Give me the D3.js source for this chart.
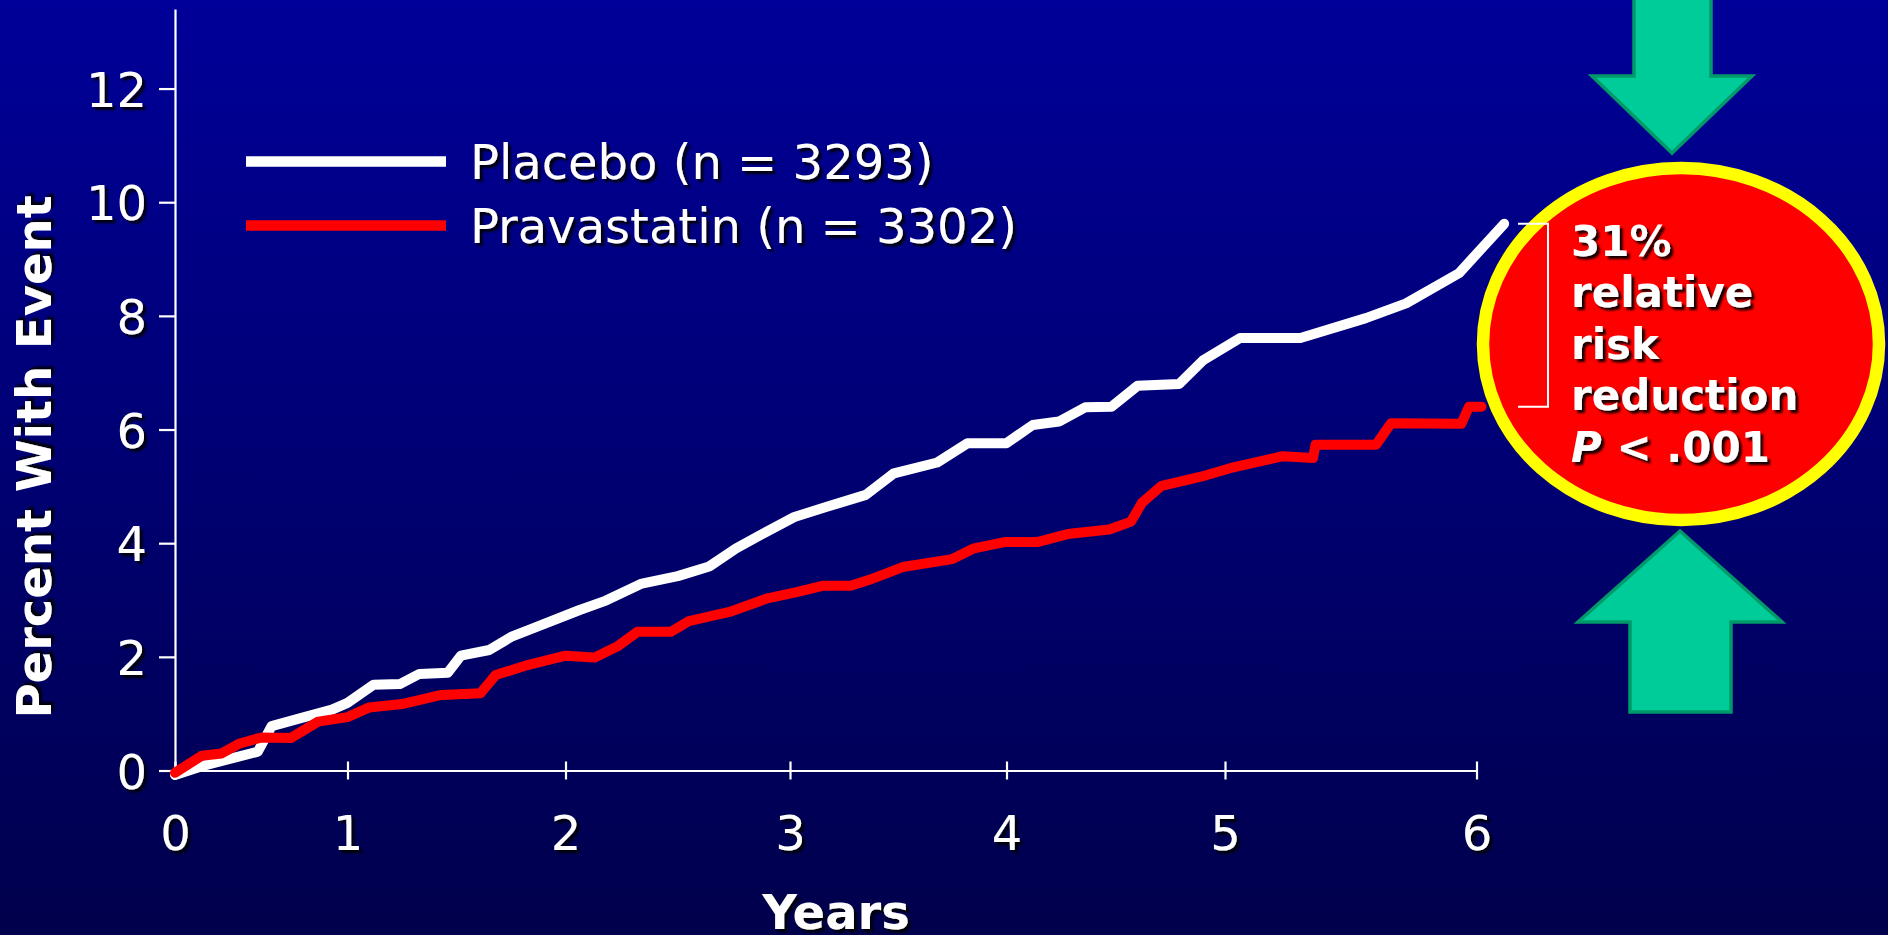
<!DOCTYPE html>
<html>
<head>
<meta charset="utf-8">
<script src="https://cdn.jsdelivr.net/npm/d3@7"></script>
<style>
  html, body { margin: 0; padding: 0; overflow: hidden; background: #000070; }
  svg { display: block; }
  text { font-family: "DejaVu Sans", Verdana, sans-serif; fill: #fff; }
</style>
</head>
<body>
<svg id="chart" width="1888" height="935"></svg>
<script>
// Cumulative event rates (%) by years of follow-up
const placeboYears = [0, 0.16, 0.30, 0.48, 0.56, 0.75, 0.91, 1.00, 1.12, 1.24, 1.33, 1.46, 1.52, 1.65, 1.75, 1.85, 2.06, 2.18, 2.34, 2.50, 2.64, 2.76, 2.88, 3.02, 3.17, 3.35, 3.48, 3.68, 3.82, 4.00, 4.12, 4.24, 4.36, 4.48, 4.60, 4.79, 4.90, 5.06, 5.30, 5.56, 5.72, 5.93, 6.11];
const placeboPct = [-0.08, 0.08, 0.19, 0.33, 0.78, 0.94, 1.07, 1.19, 1.51, 1.52, 1.70, 1.72, 2.02, 2.12, 2.35, 2.50, 2.82, 2.99, 3.29, 3.42, 3.59, 3.91, 4.17, 4.46, 4.64, 4.85, 5.23, 5.42, 5.76, 5.76, 6.08, 6.14, 6.39, 6.40, 6.77, 6.80, 7.22, 7.61, 7.61, 7.96, 8.22, 8.75, 9.62];

const pravaYears = [0, 0.155, 0.27, 0.37, 0.50, 0.67, 0.83, 1.00, 1.10, 1.25, 1.43, 1.61, 1.68, 1.83, 2.00, 2.13, 2.23, 2.32, 2.47, 2.55, 2.73, 2.90, 3.03, 3.15, 3.28, 3.37, 3.52, 3.75, 3.85, 3.99, 4.14, 4.28, 4.47, 4.57, 4.62, 4.71, 4.89, 5.02, 5.23, 5.35, 5.36, 5.60, 5.66, 5.94, 5.97, 6.02];
const pravaPct = [-0.04, 0.26, 0.30, 0.47, 0.58, 0.57, 0.86, 0.94, 1.11, 1.17, 1.33, 1.36, 1.68, 1.86, 2.02, 1.99, 2.18, 2.44, 2.44, 2.63, 2.79, 3.03, 3.14, 3.25, 3.25, 3.36, 3.58, 3.72, 3.91, 4.02, 4.02, 4.16, 4.24, 4.38, 4.71, 5.01, 5.17, 5.32, 5.53, 5.50, 5.73, 5.73, 6.11, 6.10, 6.40, 6.40];

const seriesNames = ["Placebo (n = 3293)", "Pravastatin (n = 3302)"];
const seriesColors = ["#ffffff", "#ff0000"];

const xTicks = [0, 1, 2, 3, 4, 5, 6];
const yTicks = [0, 2, 4, 6, 8, 10, 12];
const xTitle = "Years";
const yTitle = "Percent With Event";
const calloutLines = ["31%", "relative", "risk", "reduction"];
const calloutP = ["P", " < .001"];

// ---- layout ----
const W = 1888, H = 935;
const axisLeft = 175, axisBottom = 770.5, axisTop = 9;
// tick spacing along the time axis is uneven on this slide
const xStops = [0, 172.5, 390.5, 615, 831.5, 1050, 1301.5];

const svg = d3.select("#chart");
const defs = svg.append("defs");

const grad = defs.append("linearGradient").attr("id", "bg")
  .attr("x1", 0).attr("y1", 0).attr("x2", 0).attr("y2", 1);
grad.append("stop").attr("offset", "0%").attr("stop-color", "#000099");
grad.append("stop").attr("offset", "100%").attr("stop-color", "#00004c");

const shadow = defs.append("filter").attr("id", "shadow")
  .attr("x", "-10%").attr("y", "-10%").attr("width", "130%").attr("height", "140%");
shadow.append("feDropShadow").attr("dx", 3).attr("dy", 3)
  .attr("stdDeviation", 0.8).attr("flood-color", "#000").attr("flood-opacity", 0.9);

svg.append("rect").attr("width", W).attr("height", H).attr("fill", "url(#bg)");

const x = d3.scaleLinear().domain(xTicks).range(xStops.map(d => axisLeft + d));
const y = d3.scaleLinear().domain([0, 13.4]).range([axisBottom, axisTop]);

// ---- axes ----
const gy = svg.append("g").attr("transform", `translate(${axisLeft},0)`)
  .call(d3.axisLeft(y).tickValues(yTicks).tickSize(16).tickSizeOuter(0).tickFormat(d3.format("d")));
const gx = svg.append("g").attr("transform", `translate(0,${axisBottom})`)
  .call(d3.axisBottom(x).tickValues(xTicks).tickSize(9).tickSizeOuter(0).tickFormat(d3.format("d")));

[gy, gx].forEach(g => {
  g.select(".domain").attr("stroke", "#fff").attr("stroke-width", 2.2);
  g.selectAll(".tick line").attr("stroke", "#fff").attr("stroke-width", 2.2);
  g.selectAll(".tick text")
    .attr("font-size", 48).attr("fill", "#fff")
    .attr("font-family", '"DejaVu Sans", Verdana, sans-serif')
    .attr("filter", "url(#shadow)");
});
gy.selectAll(".tick text").attr("x", -28).attr("dy", 17.5);
gx.selectAll(".tick line").attr("y1", -9);
gx.selectAll(".tick text").attr("y", 79.5).attr("dy", 0);

// axis titles
svg.append("text")
  .attr("transform", `translate(51,457) rotate(-90)`)
  .attr("text-anchor", "middle")
  .attr("font-size", 48).attr("font-weight", "bold")
  .attr("filter", "url(#shadow)")
  .text(yTitle);

svg.append("text")
  .attr("x", 836).attr("y", 929)
  .attr("text-anchor", "middle")
  .attr("font-size", 48).attr("font-weight", "bold")
  .attr("filter", "url(#shadow)")
  .text(xTitle);

// ---- curves ----
const line = d3.line().x(d => x(d[0])).y(d => y(d[1]));
const series = [
  d3.zip(placeboYears, placeboPct),
  d3.zip(pravaYears, pravaPct)
];

svg.append("g").selectAll("path").data(series).join("path")
  .attr("d", line)
  .attr("fill", "none")
  .attr("stroke", (d, i) => seriesColors[i])
  .attr("stroke-width", 10)
  .attr("stroke-linejoin", "round")
  .attr("stroke-linecap", "round");

// ---- legend ----
const legend = svg.append("g");
const legendY = [161.5, 225.5];
seriesNames.forEach((name, i) => {
  legend.append("line")
    .attr("x1", 246).attr("x2", 446)
    .attr("y1", legendY[i]).attr("y2", legendY[i])
    .attr("stroke", seriesColors[i]).attr("stroke-width", 10.5);
  legend.append("text")
    .attr("x", 470).attr("y", legendY[i] + 17.5)
    .attr("font-size", 48)
    .attr("filter", "url(#shadow)")
    .text(name);
});

// ---- callout: arrows, ellipse, bracket, text ----
const arrowFill = "#00cc99", arrowStroke = "#00996a";
const topArrow = [[1634, -6], [1711, -6], [1711, 76], [1752, 76], [1672, 153], [1592, 76], [1634, 76]];
const bottomArrow = [[1680, 531], [1782, 622], [1731, 622], [1731, 712], [1630, 712], [1630, 622], [1578, 622]];
[topArrow, bottomArrow].forEach(pts => {
  svg.append("path")
    .attr("d", d3.line()(pts) + "Z")
    .attr("fill", arrowFill).attr("stroke", arrowStroke)
    .attr("stroke-width", 3.5).attr("stroke-linejoin", "miter");
});

svg.append("ellipse")
  .attr("cx", 1681).attr("cy", 344).attr("rx", 198).attr("ry", 176)
  .attr("fill", "#ff0000").attr("stroke", "#ffff00").attr("stroke-width", 12.5);

const bTop = y(placeboPct[placeboPct.length - 1]);
const bBot = y(pravaPct[pravaPct.length - 1]);
svg.append("path")
  .attr("d", `M1518,${bTop}H1548V${bBot}H1518`)
  .attr("fill", "none").attr("stroke", "#fff").attr("stroke-width", 2);

const callout = svg.append("g").attr("filter", "url(#shadow)")
  .attr("font-size", 42).attr("font-weight", "bold");
const baseY = [256, 307, 359, 410];
calloutLines.forEach((t, i) => {
  callout.append("text").attr("x", 1571).attr("y", baseY[i]).text(t);
});
const pLine = callout.append("text").attr("x", 1571).attr("y", 462);
pLine.append("tspan").attr("font-style", "italic").text(calloutP[0]);
pLine.append("tspan").text(calloutP[1]);
</script>
</body>
</html>
